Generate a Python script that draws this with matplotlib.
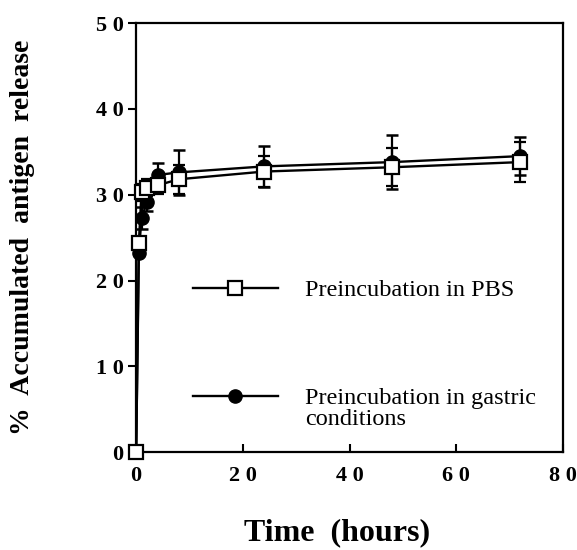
import matplotlib
matplotlib.use("Agg")
import matplotlib.pyplot as plt
from matplotlib.lines import Line2D
from matplotlib.ticker import FuncFormatter

# time points (hours)
time_h = [0, 0.5, 1, 2, 4, 8, 24, 48, 72]

# preincubation in PBS
pbs_mean = [0, 24.4, 30.3, 30.8, 31.1, 31.8, 32.7, 33.2, 33.8]
pbs_err = [0, 0, 1.0, 1.0, 1.0, 1.7, 1.8, 2.2, 2.3]

# preincubation in gastric conditions
gas_mean = [0, 23.2, 27.3, 29.1, 32.3, 32.6, 33.3, 33.8, 34.5]
gas_err = [0, 0, 1.3, 1.0, 1.4, 2.6, 2.4, 3.1, 2.2]

xticks = [0, 20, 40, 60, 80]
yticks = [0, 10, 20, 30, 40, 50]

plt.rcParams["font.family"] = ["Liberation Serif", "DejaVu Serif"]

fig = plt.figure(figsize=(5.77, 5.5), dpi=100)
ax = fig.add_axes([0.236, 0.178, 0.740, 0.780])

eb_gas = ax.errorbar(time_h, gas_mean, yerr=gas_err, color="black", lw=1.7,
                     marker="o", ms=9.5, mfc="black", mec="black",
                     elinewidth=1.6, capsize=4.5, capthick=1.8, zorder=2)
eb_pbs = ax.errorbar(time_h, pbs_mean, yerr=pbs_err, color="black", lw=1.7,
                     marker="s", ms=9.5, mfc="white", mec="black", mew=1.6,
                     elinewidth=1.6, capsize=4.5, capthick=1.8, zorder=3)
for eb in (eb_gas, eb_pbs):
    eb[0].set_clip_on(False)

ax.set_xlim(0, 80)
ax.set_ylim(0, 50)
ax.set_xticks(xticks)
ax.set_yticks(yticks)

spaced = FuncFormatter(lambda v, p: " ".join(str(int(v))))
ax.xaxis.set_major_formatter(spaced)
ax.yaxis.set_major_formatter(spaced)

for s in ax.spines.values():
    s.set_linewidth(1.6)
ax.tick_params(axis="y", direction="out", length=6, width=1.5, labelsize=16, pad=3)
ax.tick_params(axis="x", direction="in", length=6, width=1.5, labelsize=16, pad=10)
for lab in ax.get_xticklabels() + ax.get_yticklabels():
    lab.set_fontweight("bold")

ax.set_xlabel("Time  (hours)", fontsize=23, fontweight="bold", labelpad=23)
ax.xaxis.label.set_x(0.47)
ax.set_ylabel("%  Accumulated  antigen  release", fontsize=20, fontweight="bold", labelpad=44)

handles = [
    Line2D([], [], color="black", lw=1.7, marker="s", ms=9.5, mfc="white", mec="black", mew=1.6),
    Line2D([], [], color="black", lw=1.7, marker="o", ms=9.5, mfc="black", mec="black"),
]
leg = ax.legend(handles, ["Preincubation in PBS", "Preincubation in gastric"],
                loc="upper left", bbox_to_anchor=(0.133, 0.403), frameon=False,
                borderpad=0, borderaxespad=0,
                fontsize=17.5, handlelength=3.5, handletextpad=1.1, labelspacing=3.53)

# second line of the gastric label, set just under the legend text
fig.canvas.draw()
bb = leg.get_texts()[1].get_window_extent().transformed(ax.transAxes.inverted())
ax.text(bb.x0, bb.y0, "conditions", fontsize=17.5, ha="left", va="top",
        transform=ax.transAxes)

fig.savefig("out.png", dpi=100)
